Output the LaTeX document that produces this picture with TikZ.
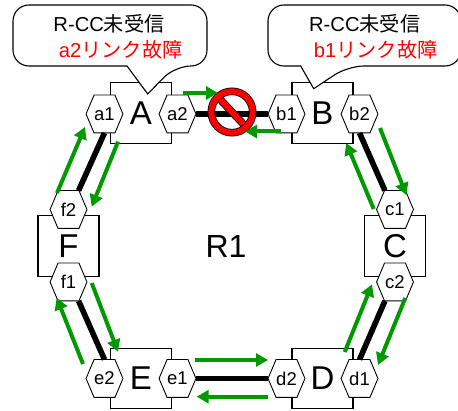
\documentclass[tikz,border=0pt]{standalone}
\usepackage{fontspec}
\setmainfont{Liberation Sans}
\newfontfamily\cjk{Noto Sans CJK JP}
\usetikzlibrary{arrows.meta}
\definecolor{linkgreen}{RGB}{0,153,0}
\makeatletter
\pgfdeclareshape{porthex}{
  \inheritsavedanchors[from=rectangle]
  \inheritanchorborder[from=rectangle]
  \inheritanchor[from=rectangle]{center}
  \inheritanchor[from=rectangle]{north}
  \inheritanchor[from=rectangle]{south}
  \inheritanchor[from=rectangle]{east}
  \inheritanchor[from=rectangle]{west}
  \backgroundpath{
    \southwest \pgf@xa=\pgf@x \pgf@ya=\pgf@y
    \northeast \pgf@xb=\pgf@x \pgf@yb=\pgf@y
    \pgf@xc=.5\pgf@xa \advance\pgf@xc by .5\pgf@xb
    \pgf@yc=.5\pgf@ya \advance\pgf@yc by .5\pgf@yb
    \pgfpathmoveto{\pgfqpoint{\pgf@xa}{\pgf@yc}}
    \pgfpathlineto{\pgfqpoint{\dimexpr\pgf@xa+8pt}{\pgf@yb}}
    \pgfpathlineto{\pgfqpoint{\dimexpr\pgf@xb-8pt}{\pgf@yb}}
    \pgfpathlineto{\pgfqpoint{\pgf@xb}{\pgf@yc}}
    \pgfpathlineto{\pgfqpoint{\dimexpr\pgf@xb-8pt}{\pgf@ya}}
    \pgfpathlineto{\pgfqpoint{\dimexpr\pgf@xa+8pt}{\pgf@ya}}
    \pgfpathclose
  }
}
\makeatother
\begin{document}
\begin{tikzpicture}[x=1pt,y=-1pt]

    \tikzset{
      NodeBox/.style = { rectangle, draw, line width = 1.1pt, minimum width = 61pt,
			  minimum height = 60.5pt, inner sep = 0pt, font = \fontsize{33}{33}\selectfont },
      PortHex/.style = { porthex, draw, fill = white, line width = .9pt,
			  minimum width = 36pt, minimum height = 37pt, inner sep = 0pt,
			  font = \fontsize{18.5}{18.5}\selectfont },
      LinkStyle/.style = { black, line width = 5.6pt },
      FlowStyle/.style = { linkgreen, line width = 4pt, -{Triangle[length=12pt,width=13pt]} },
      BalloonStyle/.style = { draw, fill = white, line width = 1.1pt },
      BalloonText/.style = { inner sep = 0pt, font = \fontsize{20.2}{20.2}\selectfont },
      BanStyle/.style = { draw = black, line width = .8pt, double = red, double distance = 6pt } }

      \useasboundingbox (0,0) rectangle (458,411);

      \node[NodeBox] (A) at (141, 113) {A};
      \node[NodeBox] (B) at (322.5, 113) {B};
      \node[NodeBox] (C) at (395, 246) {C};
      \node[NodeBox] (D) at (322.5, 378.5) {D};
      \node[NodeBox] (E) at (141, 378.5) {E};
      \node[NodeBox] (F) at (68.5, 246) {F};

      \node[PortHex] (a1) at (104.5, 114) {a1};
      \node[PortHex] (a2) at (177.5, 114) {a2};
      \node[PortHex] (b1) at (286.5, 114) {b1};
      \node[PortHex] (b2) at (359.5, 114) {b2};
      \node[PortHex] (c1) at (395, 209.5) {c1};
      \node[PortHex] (c2) at (395, 282) {c2};
      \node[PortHex] (d1) at (359.5, 378.5) {d1};
      \node[PortHex] (d2) at (286.5, 378.5) {d2};
      \node[PortHex] (e1) at (177.5, 378.5) {e1};
      \node[PortHex] (e2) at (104.5, 378.5) {e2};
      \node[PortHex] (f1) at (68.5, 282) {f1};
      \node[PortHex] (f2) at (68.5, 209.5) {f2};

      \node[font = \fontsize{32}{32}\selectfont] (R1) at (226, 246) {R1};

      \draw[LinkStyle] (a2.east) -- (b1.west);
      \draw[LinkStyle] (b2.south) -- (c1.118);
      \draw[LinkStyle] (c2.242) -- (d1.north);
      \draw[LinkStyle] (d2.west) -- (e1.east);
      \draw[LinkStyle] (e2.north) -- (f1.-62);
      \draw[LinkStyle] (f2.62) -- (a1.south);

      \coordinate (banA) at (216, 95);
      \coordinate (banB) at (248, 129);
      \draw[BanStyle] (banA) -- (banB);
      \node[BanStyle, circle, inner sep = 0pt, minimum size = 41.4pt] (ban) at (232, 112) {};

      % balloons
      \draw[BalloonStyle, rounded corners = 16pt] (13, 5) -- (207, 5) -- (207, 66) -- (175, 66)
	[sharp corners] -- (147.7, 94) -- (127, 66) [rounded corners = 16pt] -- (13, 66) -- cycle;
      \draw[BalloonStyle, rounded corners = 16pt] (268, 5) -- (461, 5) -- (461, 66) -- (348, 66)
	[sharp corners] -- (313.7, 88.7) -- (300.7, 66) [rounded corners = 16pt] -- (268, 66) -- cycle;

      \node[BalloonText] (msgA) at (109, 24) {R-CC{\cjk 未受信}};
      \node[BalloonText, red] (failA) at (120.7, 50) {a2{\cjk リンク故障}};
      \node[BalloonText] (msgB) at (364.7, 24) {R-CC{\cjk 未受信}};
      \node[BalloonText, red] (failB) at (375.7, 50) {b1{\cjk リンク故障}};

      % flows, ring order
      \coordinate (ab0) at (183, 93);    \coordinate (ab1) at (218, 93);
      \coordinate (ba0) at (281, 131.5); \coordinate (ba1) at (245, 131.5);
      \coordinate (bc0) at (380, 128);   \coordinate (bc1) at (406.3, 195);
      \coordinate (cb0) at (373.7, 209); \coordinate (cb1) at (346.3, 143);
      \coordinate (cd0) at (405.3, 298); \coordinate (cd1) at (378, 365);
      \coordinate (dc0) at (344.7, 352); \coordinate (dc1) at (372, 284.3);
      \coordinate (de0) at (268, 396.7); \coordinate (de1) at (196.7, 396.7);
      \coordinate (ed0) at (195, 360);   \coordinate (ed1) at (268, 360);
      \coordinate (ef0) at (83, 364);    \coordinate (ef1) at (56.7, 297.7);
      \coordinate (fe0) at (91.7, 283);  \coordinate (fe1) at (118, 351.7);
      \coordinate (fa0) at (57, 193);    \coordinate (fa1) at (85, 127);
      \coordinate (af0) at (118, 141.7); \coordinate (af1) at (91.7, 206.7);

      \draw[FlowStyle] (ab0) -- (ab1);
      \draw[FlowStyle] (ba0) -- (ba1);
      \draw[FlowStyle] (bc0) -- (bc1);
      \draw[FlowStyle] (cb0) -- (cb1);
      \draw[FlowStyle] (cd0) -- (cd1);
      \draw[FlowStyle] (dc0) -- (dc1);
      \draw[FlowStyle] (de0) -- (de1);
      \draw[FlowStyle] (ed0) -- (ed1);
      \draw[FlowStyle] (ef0) -- (ef1);
      \draw[FlowStyle] (fe0) -- (fe1);
      \draw[FlowStyle] (fa0) -- (fa1);
      \draw[FlowStyle] (af0) -- (af1);
\end{tikzpicture}
\end{document}
